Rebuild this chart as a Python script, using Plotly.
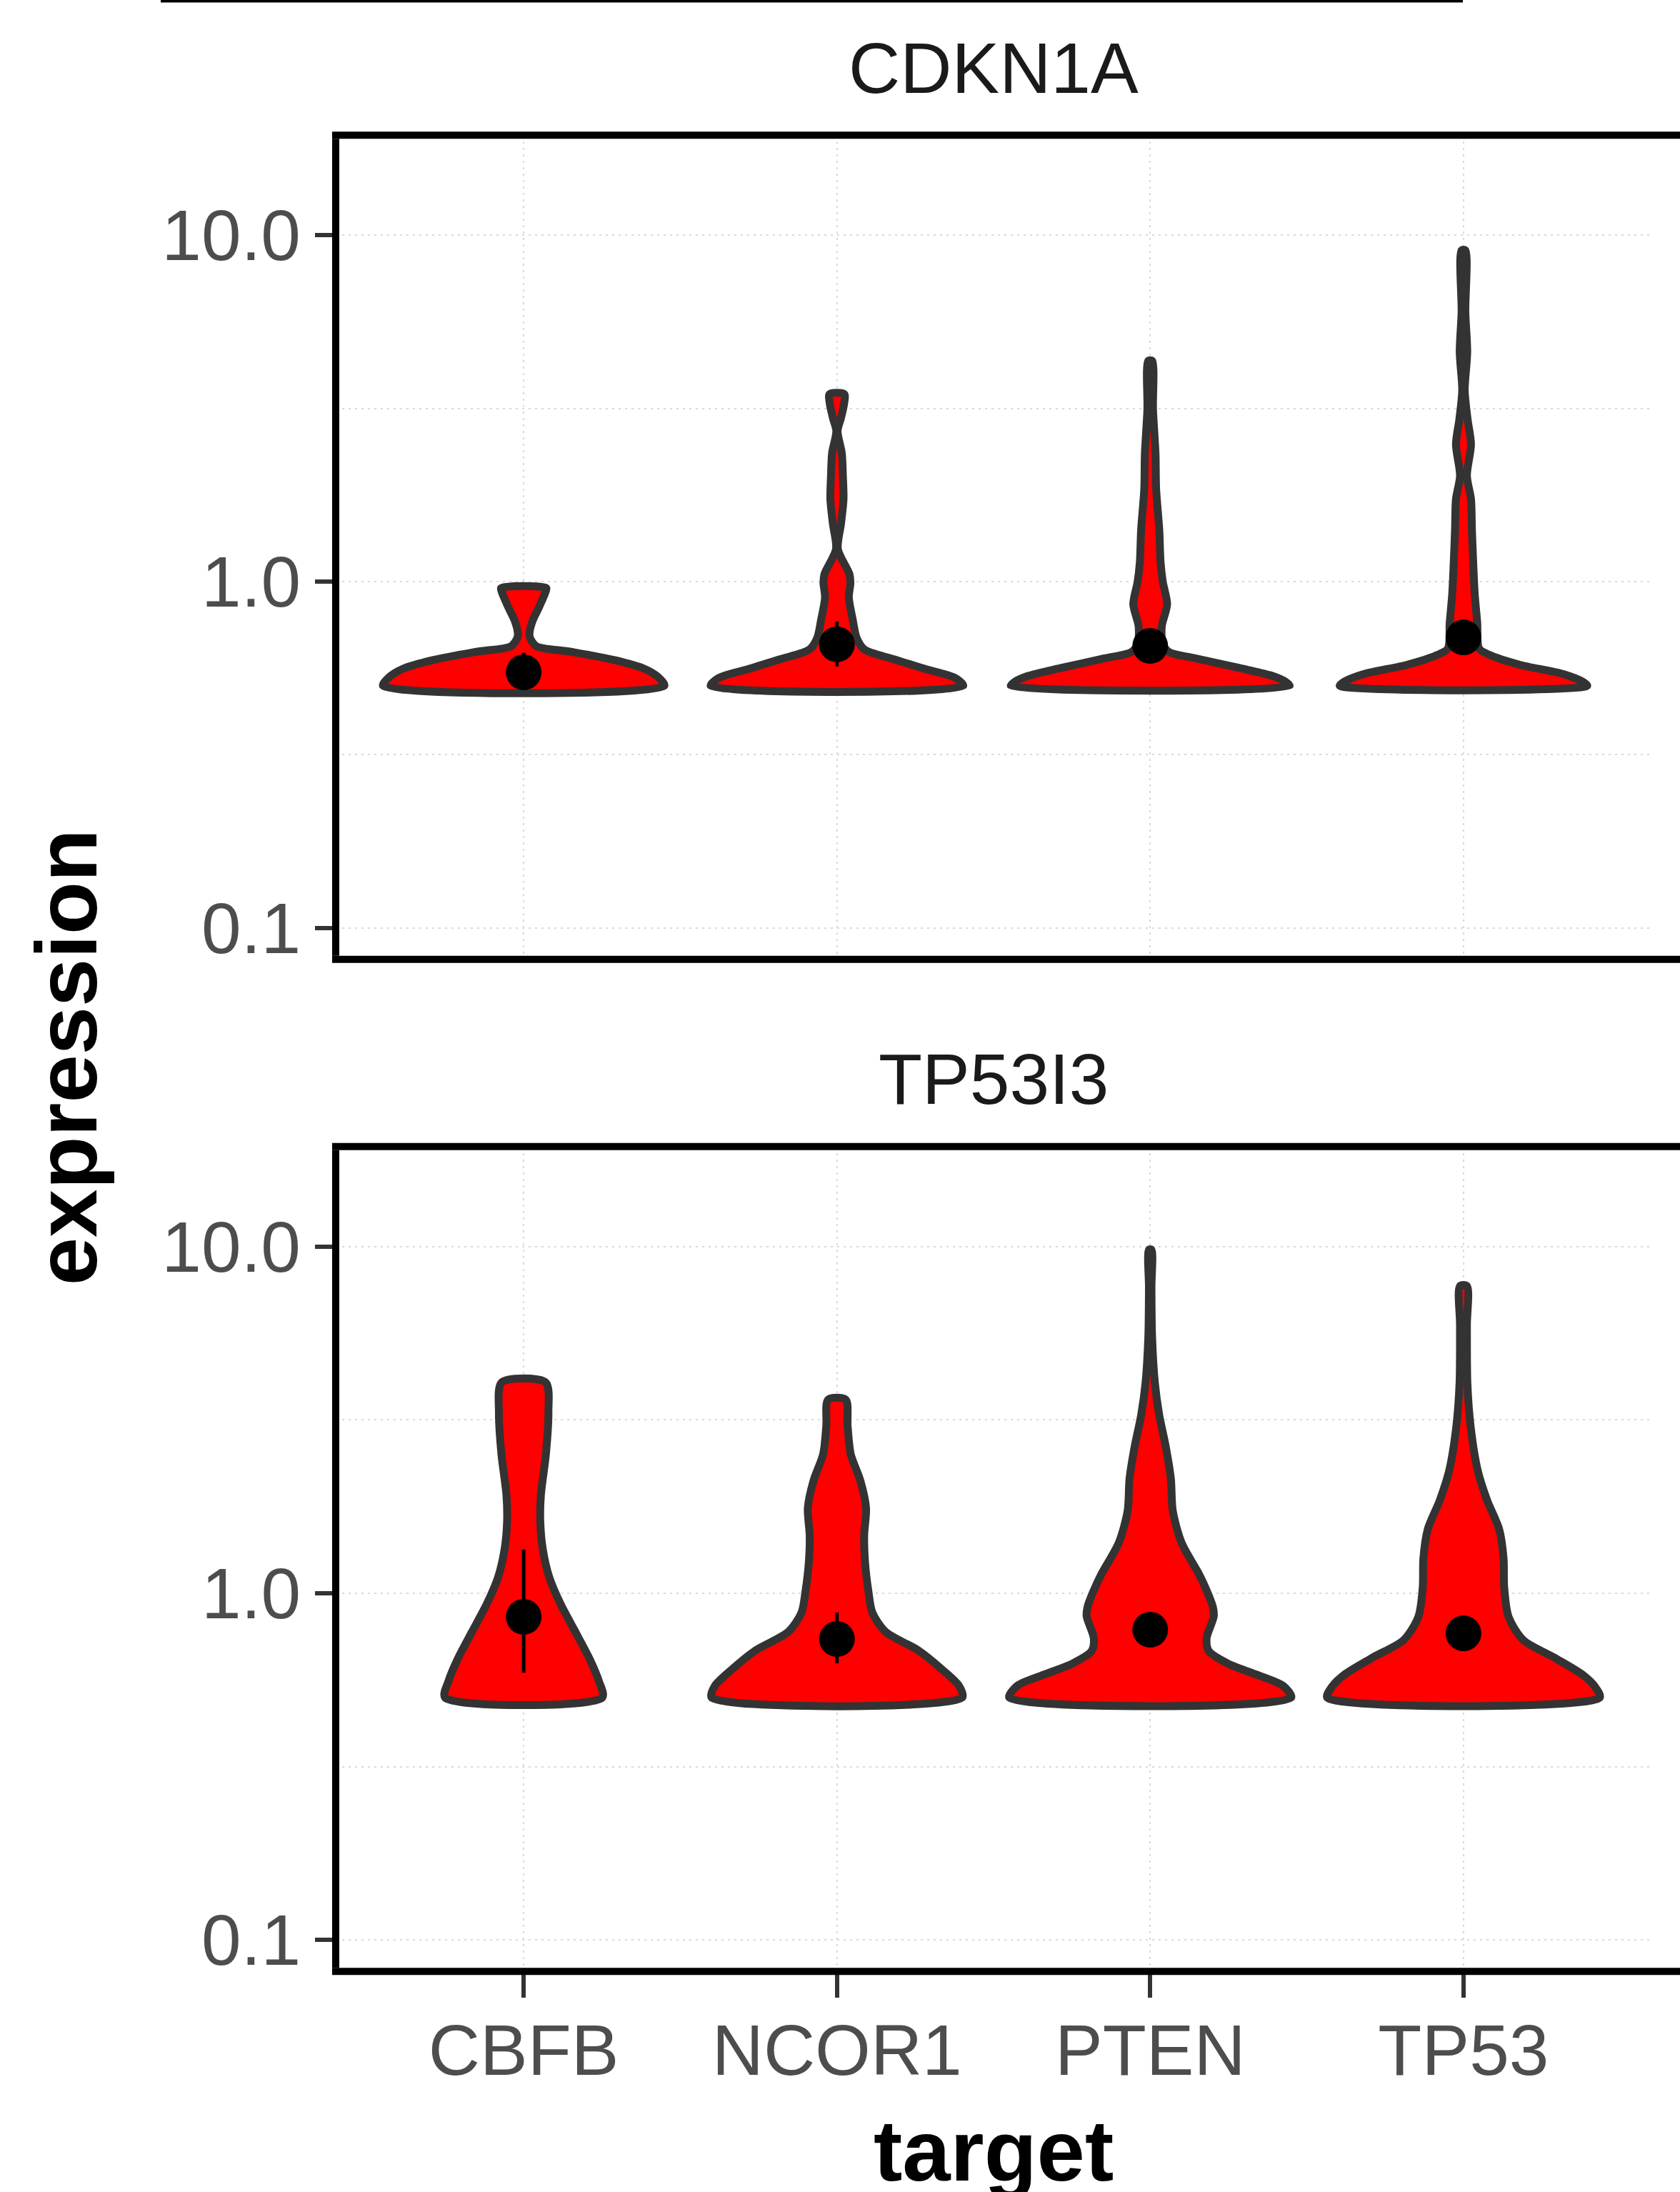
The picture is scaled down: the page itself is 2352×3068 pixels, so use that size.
import plotly.graph_objects as go

W, H = 2352, 3068

targets = ["CBFB", "NCOR1", "PTEN", "TP53"]
genes = ["CDKN1A", "TP53I3"]

# violin outlines: expression value -> half width (category units)
prof_CDKN1A = {
    "CBFB": ([0.5, 0.529, 0.56, 0.593, 0.627, 0.651, 0.689, 0.716, 0.772, 0.847, 0.935, 0.958],
             [0.449, 0.43, 0.385, 0.29, 0.15, 0.04, 0.02, 0.019, 0.029, 0.05, 0.07, 0.072]),
    "NCOR1": ([0.5, 0.527, 0.56, 0.597, 0.637, 0.687, 0.78, 0.90, 0.99, 1.05, 1.24, 1.47, 1.73, 2.02, 2.35, 2.72, 2.97, 3.27, 3.48],
              [0.403, 0.377, 0.28, 0.18, 0.087, 0.063, 0.05, 0.038, 0.043, 0.04, 0.003, 0.013, 0.021, 0.019, 0.0155, 0.002, 0.013, 0.023, 0.0235]),
    "PTEN": ([0.5, 0.513, 0.534, 0.563, 0.60, 0.626, 0.66, 0.743, 0.86, 1.0, 1.14, 1.41, 1.85, 2.34, 3.14, 4.34],
             [0.445, 0.433, 0.39, 0.285, 0.146, 0.06, 0.04, 0.037, 0.054, 0.04, 0.033, 0.029, 0.019, 0.017, 0.009, 0.006]),
    "TP53": ([0.5, 0.514, 0.541, 0.575, 0.612, 0.64, 0.76, 0.918, 1.14, 1.41, 1.73, 2.02, 2.49, 2.95, 3.57, 4.6, 6.0, 9.05],
             [0.395, 0.38, 0.317, 0.18, 0.087, 0.05, 0.044, 0.036, 0.031, 0.027, 0.024, 0.011, 0.024, 0.013, 0.004, 0.012, 0.006, 0.006]),
}
prof_TP53I3 = {
    "CBFB": ([0.5, 0.558, 0.645, 0.774, 0.93, 1.11, 1.34, 1.61, 1.92, 2.52, 3.32, 4.06],
             [0.251, 0.24, 0.211, 0.165, 0.118, 0.082, 0.061, 0.053, 0.055, 0.071, 0.079, 0.07]),
    "NCOR1": ([0.5, 0.54, 0.60, 0.684, 0.774, 0.88, 1.02, 1.22, 1.47, 1.76, 2.11, 2.52, 3.04, 3.62],
              [0.40, 0.39, 0.338, 0.26, 0.155, 0.113, 0.10, 0.09, 0.087, 0.093, 0.075, 0.044, 0.034, 0.028]),
    "PTEN": ([0.5, 0.541, 0.589, 0.626, 0.681, 0.741, 0.859, 0.914, 1.02, 1.13, 1.40, 1.73, 2.14, 2.64, 3.26, 4.04, 5.5, 7.6, 9.8],
             [0.45, 0.424, 0.324, 0.249, 0.187, 0.18, 0.203, 0.20, 0.18, 0.157, 0.10, 0.072, 0.066, 0.05, 0.029, 0.015, 0.006, 0.004, 0.004]),
    "TP53": ([0.5, 0.537, 0.582, 0.652, 0.734, 0.855, 1.04, 1.26, 1.53, 1.85, 2.25, 3.02, 4.04, 5.93, 7.7],
             [0.435, 0.42, 0.38, 0.29, 0.19, 0.144, 0.13, 0.128, 0.114, 0.076, 0.046, 0.023, 0.0125, 0.011, 0.011]),
}

# point summaries (mean with lower / upper bounds)
mean_CDKN1A = [0.547, 0.659, 0.652, 0.69]
lo_CDKN1A = [0.51, 0.569, 0.625, 0.66]
hi_CDKN1A = [0.623, 0.767, 0.68, 0.72]
mean_TP53I3 = [0.855, 0.738, 0.785, 0.766]
lo_TP53I3 = [0.59, 0.628, 0.75, 0.735]
hi_TP53I3 = [1.336, 0.88, 0.82, 0.80]

ytick_vals = [0.1, 1, 10]
ytick_text = ["0.1", "1.0", "10.0"]
yminor_vals = [0.3162, 3.162]

FONT = "Liberation Sans, Arial, Helvetica, sans-serif"


def px_x(p):
    return p / W


def px_y(p):
    return 1 - p / H


fig = go.Figure()

panels = [
    (prof_CDKN1A, mean_CDKN1A, lo_CDKN1A, hi_CDKN1A, "x", "y"),
    (prof_TP53I3, mean_TP53I3, lo_TP53I3, hi_TP53I3, "x2", "y2"),
]

for prof, means, los, his, xa, ya in panels:
    for i, t in enumerate(targets):
        ys, hw = prof[t]
        xs = [i - w for w in hw] + [i + w for w in reversed(hw)] + [i - hw[0]]
        yy = list(ys) + list(reversed(ys)) + [ys[0]]
        fig.add_trace(go.Scatter(
            x=xs, y=yy, mode="lines", fill="toself", fillcolor="#FF0000",
            line=dict(color="#333333", width=11, shape="spline", smoothing=0.8),
            xaxis=xa, yaxis=ya, showlegend=False, hoverinfo="skip"))
    fig.add_trace(go.Scatter(
        x=list(range(len(targets))), y=means, mode="markers",
        marker=dict(color="black", size=50, line=dict(width=0)),
        error_y=dict(type="data", symmetric=False,
                     array=[h - m for h, m in zip(his, means)],
                     arrayminus=[m - l for m, l in zip(means, los)],
                     thickness=5, width=0, color="black"),
        xaxis=xa, yaxis=ya, showlegend=False))

xdom = [px_x(470), px_x(2312)]
grid = dict(showgrid=True, gridcolor="#D9D9D9", gridwidth=2, griddash="3px,6px")

common_x = dict(domain=xdom, range=[-0.6, 3.6], tickmode="array",
                tickvals=list(range(len(targets))), ticktext=targets,
                zeroline=False, showline=False, **grid)
fig.update_layout(
    width=W, height=H, margin=dict(l=0, r=0, t=0, b=0),
    paper_bgcolor="white", plot_bgcolor="white",
    font=dict(family=FONT),
    xaxis=dict(anchor="y", showticklabels=False, ticks="", **common_x),
    xaxis2=dict(anchor="y2", ticks="outside", ticklen=36, tickwidth=6, tickcolor="#333333",
                tickfont=dict(size=100, color="#4D4D4D", family=FONT), ticklabelstandoff=-12,
                **common_x),
)
for name, dom in [("yaxis", [px_y(1348), px_y(190)]), ("yaxis2", [px_y(2770), px_y(1611)])]:
    fig.update_layout(**{name: dict(
        anchor="x" if name == "yaxis" else "x2",
        type="log", domain=dom, range=[-1.091, 1.289],
        tickmode="array", tickvals=ytick_vals, ticktext=ytick_text,
        ticks="outside", ticklen=28, tickwidth=6, tickcolor="#333333",
        tickfont=dict(size=100, color="#4D4D4D", family=FONT), ticklabelstandoff=0,
        zeroline=False, showline=False,
        minor=dict(tickmode="array", tickvals=yminor_vals, showgrid=True,
                   gridcolor="#D9D9D9", gridwidth=2, griddash="3px,6px", ticks=""),
        **grid)})

shapes = []
# panel borders (left, top, bottom; right edge lies beyond the picture)
for top, bot in [(190, 1348), (1611, 2770)]:
    for y in (top, bot):
        shapes.append(dict(type="line", xref="paper", yref="paper",
                           x0=px_x(465), x1=1.02, y0=px_y(y), y1=px_y(y),
                           line=dict(color="black", width=10)))
    shapes.append(dict(type="line", xref="paper", yref="paper",
                       x0=px_x(470), x1=px_x(470), y0=px_y(bot - 5), y1=px_y(top + 5),
                       line=dict(color="black", width=10)))
# remnant rule at the very top
shapes.append(dict(type="rect", xref="paper", yref="paper",
                   x0=px_x(225), x1=px_x(2048), y0=px_y(3.5), y1=1.0,
                   line=dict(width=0), fillcolor="black"))
fig.update_layout(shapes=shapes)

ann = []
for g, cy in zip(genes, [95, 1516]):
    ann.append(dict(text=g, xref="paper", yref="paper", x=px_x(1391), y=px_y(cy),
                    xanchor="center", yanchor="middle", showarrow=False,
                    font=dict(size=100, color="#1A1A1A", family=FONT)))
ann.append(dict(text="<b>target</b>", xref="paper", yref="paper", x=px_x(1391), y=px_y(3022),
                xanchor="center", yanchor="middle", showarrow=False,
                font=dict(size=121, color="black", family=FONT)))
ann.append(dict(text="<b>expression</b>", xref="paper", yref="paper", x=px_x(93), y=px_y(1486),
                xanchor="center", yanchor="middle", textangle=-90, showarrow=False,
                font=dict(size=121, color="black", family=FONT)))
fig.update_layout(annotations=ann)

fig.write_html("out.html")
